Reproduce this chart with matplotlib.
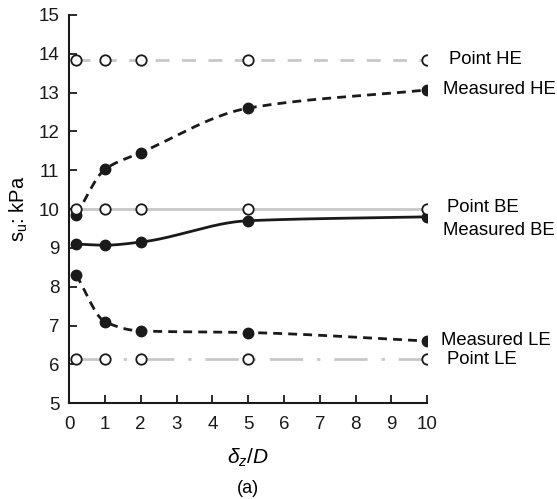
import numpy as np
import matplotlib
matplotlib.use("Agg")
from matplotlib import pyplot as plt

plt.rcParams['font.family'] = ['Liberation Sans', 'DejaVu Sans']
plt.rcParams['mathtext.fontset'] = 'custom'
plt.rcParams['mathtext.rm'] = 'Liberation Sans'
plt.rcParams['mathtext.it'] = 'Liberation Sans:italic'

# data
dz_D = [0.2, 1, 2, 5, 10]
point_he = [13.85, 13.85, 13.85, 13.85, 13.85]
point_be = [10.0, 10.0, 10.0, 10.0, 10.0]
point_le = [6.15, 6.15, 6.15, 6.15, 6.15]
measured_he = [9.85, 11.02, 11.45, 12.6, 13.07]
measured_be = [9.1, 9.07, 9.15, 9.7, 9.8]
measured_le = [8.3, 7.1, 6.86, 6.82, 6.6]


def smooth(x, y, n=200):
    '''monotone cubic (Fritsch-Carlson) curve through the points, for drawing only'''
    x = np.asarray(x, float)
    y = np.asarray(y, float)
    h = np.diff(x)
    d = np.diff(y) / h
    m = np.zeros_like(y)
    m[0], m[-1] = d[0], d[-1]
    for i in range(1, len(x) - 1):
        if d[i - 1] * d[i] <= 0:
            m[i] = 0.0
        else:
            w1 = 2 * h[i] + h[i - 1]
            w2 = h[i] + 2 * h[i - 1]
            m[i] = (w1 + w2) / (w1 / d[i - 1] + w2 / d[i])
    xs = np.linspace(x[0], x[-1], n)
    k = np.clip(np.searchsorted(x, xs) - 1, 0, len(x) - 2)
    t = (xs - x[k]) / h[k]
    h00 = 2 * t**3 - 3 * t**2 + 1
    h10 = t**3 - 2 * t**2 + t
    h01 = -2 * t**3 + 3 * t**2
    h11 = t**3 - t**2
    ys = h00 * y[k] + h10 * h[k] * m[k] + h01 * y[k + 1] + h11 * h[k] * m[k + 1]
    return xs, ys


fig = plt.figure(figsize=(5.57, 4.99), dpi=100)
ax = fig.add_axes([0.124, 0.192, 0.643, 0.778])

gray = '#c8c8c8'
ax.plot(dz_D, point_he, color=gray, lw=2.0, dashes=(5, 4.5))
ax.plot(dz_D, point_be, color=gray, lw=2.0)
ax.plot(dz_D, point_le, color=gray, lw=2.0, dashes=(12, 5, 1.2, 5))

xs, ys = smooth(dz_D, measured_he)
ax.plot(xs, ys, color='#1a1a1a', lw=2.0, dashes=(3.2, 2.2))
xs, ys = smooth(dz_D, measured_be)
ax.plot(xs, ys, color='#1a1a1a', lw=2.0)
xs, ys = smooth(dz_D, measured_le)
ax.plot(xs, ys, color='#1a1a1a', lw=2.0, dashes=(3.2, 2.2))

for vals in (point_he, point_be, point_le):
    ax.plot(dz_D, vals, 'o', ms=7.5, mfc='white', mec='#1a1a1a', mew=1.3, zorder=4)
for vals in (measured_he, measured_be, measured_le):
    ax.plot(dz_D, vals, 'o', ms=7.5, mfc='#1a1a1a', mec='#1a1a1a', zorder=3)

labels = [('Point HE', 10.6, 13.85), ('Measured HE', 10.45, 13.07),
          ('Point BE', 10.55, 10.05), ('Measured BE', 10.45, 9.45),
          ('Measured LE', 10.38, 6.62), ('Point LE', 10.55, 6.12)]
for txt, x, y in labels:
    ax.text(x, y, txt, fontsize=13.3, va='center', ha='left', clip_on=False)

ax.set_xlim(0, 10)
ax.set_ylim(5, 15)
ax.set_xticks(range(0, 11))
ax.set_yticks(range(5, 16))
for s in ('top', 'right'):
    ax.spines[s].set_visible(False)
for s in ('left', 'bottom'):
    ax.spines[s].set_linewidth(1.5)
    ax.spines[s].set_color('#1a1a1a')
ax.tick_params(direction='in', length=6, width=1.3, labelsize=13.5,
               colors='#1a1a1a', pad=7)
ax.tick_params(axis='x', pad=9)

ax.set_ylabel(r's$_\mathrm{u}$: kPa', fontsize=14.5, labelpad=6)
ax.set_xlabel(r'$\delta_z/D$', fontsize=15, labelpad=10)
fig.text(0.124 + 0.643 * 0.5, 0.012, '(a)', fontsize=13, ha='center')

fig.savefig('out.png', dpi=100)
